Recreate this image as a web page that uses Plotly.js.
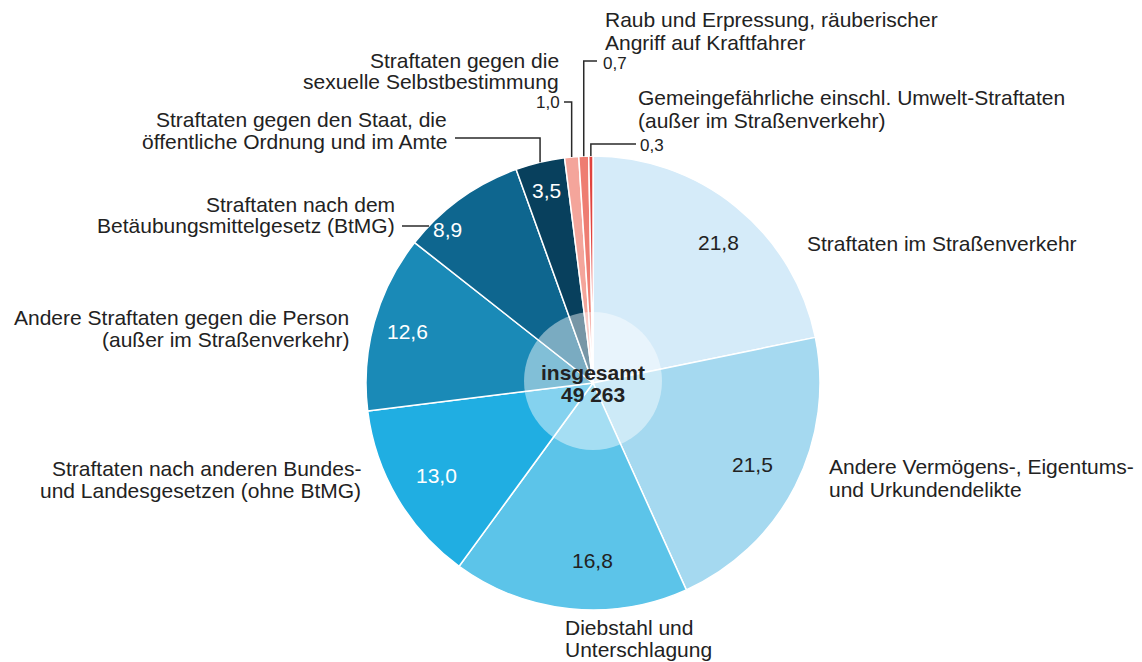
<!DOCTYPE html>
<html><head><meta charset="utf-8">
<script src="https://cdn.plot.ly/plotly-3.0.1.min.js"></script>
<style>html,body{margin:0;padding:0;background:#fff}#chart{width:1142px;height:662px}</style>
</head><body><div id="chart"></div>
<script>
const categories = [
  "Straftaten im Straßenverkehr",
  "Andere Vermögens-, Eigentums-<br>und Urkundendelikte",
  "Diebstahl und<br>Unterschlagung",
  "Straftaten nach anderen Bundes-<br>und Landesgesetzen (ohne BtMG)",
  "Andere Straftaten gegen die Person<br>(außer im Straßenverkehr)",
  "Straftaten nach dem<br>Betäubungsmittelgesetz (BtMG)",
  "Straftaten gegen den Staat, die<br>öffentliche Ordnung und im Amte",
  "Straftaten gegen die<br>sexuelle Selbstbestimmung",
  "Raub und Erpressung, räuberischer<br>Angriff auf Kraftfahrer",
  "Gemeingefährliche einschl. Umwelt-Straftaten<br>(außer im Straßenverkehr)"
];
const values = [21.8, 21.5, 16.8, 13.0, 12.6, 8.9, 3.5, 1.0, 0.7, 0.3];
const colors = ["#d5ebf9","#a5d9f0","#5cc4e9","#20aee2","#1a8ab7","#0e668f","#08405d","#f4a59b","#ee7d72","#e0433f"];
const totalLabel = ["insgesamt", "49 263"];

const W = 1142, H = 662;
const CX = 593, CY = 383, R = 227;
const FAM = "Liberation Sans, Arial, Helvetica, sans-serif";
const fmt = v => v.toFixed(1).replace('.', ',');
const px = x => x / W, py = y => 1 - y / H;

const sum = values.reduce((a,b)=>a+b,0);
let cum = 0;
const mids = values.map(v => { const m = (cum + v/2) / sum * 2 * Math.PI; cum += v; return m; });
const edge = (i, r) => [CX + r*Math.sin(mids[i]), CY - r*Math.cos(mids[i])];

const annotations = [];
const shapes = [];
function ann(text, x, y, xanchor, font) {
  annotations.push({text, x: px(x), y: py(y), xref:'paper', yref:'paper', xanchor, yanchor:'middle',
    showarrow:false, align: xanchor, borderpad:0, font: Object.assign({family:FAM, size:21, color:'#222'}, font||{})});
}
// multi-line label placed line by line (tight print line spacing)
function label(i, x, yFirst, xanchor) {
  categories[i].split('<br>').forEach((t,k) => ann(t, x, yFirst + k*22, xanchor));
}
function line(pts) {
  const d = pts.map((p,k) => (k?'L':'M') + px(p[0]) + ',' + py(p[1])).join(' ');
  shapes.push({type:'path', path:d, xref:'paper', yref:'paper', line:{color:'#2a2a2a', width:1.5}});
}

// outside category labels
label(0, 806, 243, 'left');
label(1, 828, 467, 'left');
label(2, 564, 627, 'left');
label(3, 362, 468, 'right');
label(4, 350, 317, 'right');
label(5, 396, 204, 'right');
label(6, 448, 119, 'right');
label(7, 560, 60, 'right');
label(8, 604, 20, 'left');
label(9, 637, 98, 'left');

// leader lines, ending on the pie rim
const rimX = y => CX - Math.sqrt(R*R - (CY-y)*(CY-y));
line([[402, 226], [rimX(226), 226]]);
const e6 = edge(6, R); line([[455, 138], [e6[0], 138], [e6[0], e6[1]]]);
const e7 = edge(7, R); line([[564, 102], [e7[0], 102], [e7[0], e7[1]]]);
const e8 = edge(8, R); line([[597, 61], [e8[0], 61], [e8[0], e8[1]]]);
const e9 = edge(9, R); line([[636, 144], [e9[0], 144], [e9[0], e9[1]]]);
ann(fmt(values[7]), 561, 103, 'right', {size:17});
ann(fmt(values[8]), 602, 64, 'left', {size:17});
ann(fmt(values[9]), 639, 145, 'left', {size:17});

// values inside the slices
const insideR = [0.83, 0.79, 0.78, 0.80, 0.85, 0.93, 0.87];
const insideShift = [0.045, 0, -0.1, 0, 0, -0.135, 0];
for (let i = 0; i < insideR.length; i++) {
  const a = mids[i] + insideShift[i], r = insideR[i]*R;
  ann(fmt(values[i]), CX + r*Math.sin(a), CY - r*Math.cos(a), 'center', {color: i < 3 ? '#222' : '#fff'});
}

// center
shapes.push({type:'circle', xref:'paper', yref:'paper', x0:px(CX-69), x1:px(CX+69), y0:py(CY+67), y1:py(CY-71),
  fillcolor:'rgba(255,255,255,0.45)', line:{width:0}});
ann("<b>" + totalLabel[0] + "</b>", CX, 372, 'center');
ann("<b>" + totalLabel[1] + "</b>", CX, 394, 'center');

const trace = {
  type:'pie', values, labels: categories.map((c,i)=>'c'+i),
  textinfo:'none',
  sort:false, direction:'clockwise', rotation:0,
  marker:{colors, line:{color:'#fff', width:1.5}},
  domain:{x:[px(CX-R), px(CX+R)], y:[py(CY+R), py(CY-R)]},
  hoverinfo:'none'
};

Plotly.newPlot('chart', [trace], {
  width:W, height:H, margin:{l:0,r:0,t:0,b:0}, showlegend:false,
  paper_bgcolor:'#fff', annotations, shapes
}, {staticPlot:true});
</script></body></html>
